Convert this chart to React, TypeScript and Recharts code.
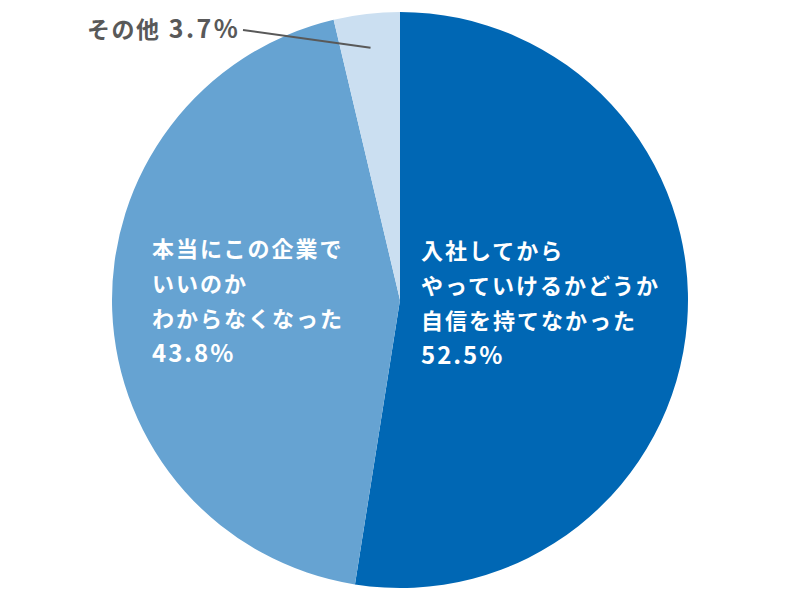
import React from "react";
import { PieChart, Pie, Cell } from "recharts";

const categories = [
  "入社してからやっていけるかどうか自信を持てなかった",
  "本当にこの企業でいいのかわからなくなった",
  "その他",
];
const labelLines = [
  ["入社してから", "やっていけるかどうか", "自信を持てなかった"],
  ["本当にこの企業で", "いいのか", "わからなくなった"],
  ["その他"],
];
const values = [52.5, 43.8, 3.7];
const colors = ["#0067b4", "#66a3d2", "#cbdff1"];

const data = categories.map((name, i) => ({ name, value: values[i], idx: i }));

const FONT = "'Noto Sans CJK JP', 'Noto Sans', sans-serif";

const renderLabel = (props: any) => {
  const { cx, cy, midAngle, index } = props;
  const v = values[index].toFixed(1) + "%";
  if (index === 2) {
    const RAD = Math.PI / 180;
    const r = 254;
    const ex = cx + r * Math.cos(-midAngle * RAD);
    const ey = cy + r * Math.sin(-midAngle * RAD);
    return (
      <g key="lbl2">
        <line x1={243} y1={30} x2={ex} y2={ey} stroke="#595959" strokeWidth={2} />
        <text x={87} y={38} fill="#595959" fontFamily={FONT} fontWeight={700} fontSize={23} letterSpacing={1.5}>
          {labelLines[2][0]}
          <tspan fontSize={25} letterSpacing={2.5}>{" " + v}</tspan>
        </text>
      </g>
    );
  }
  const x = index === 0 ? cx + 21 : cx - 248;
  const y0 = index === 0 ? 259 : 257;
  const lines = labelLines[index];
  return (
    <g key={"lbl" + index}>
      {lines.map((t, i) => (
        <text
          key={i}
          x={x}
          y={y0 + i * 35}
          fill="#ffffff"
          fontFamily={FONT}
          fontWeight={700}
          fontSize={22}
          letterSpacing={2}
        >
          {t}
        </text>
      ))}
      <text
        x={x}
        y={y0 + 3 * 35}
        fill="#ffffff"
        fontFamily={FONT}
        fontWeight={700}
        fontSize={24}
        letterSpacing={2}
      >
        {v}
      </text>
    </g>
  );
};

export default function App() {
  return (
    <div style={{ position: "absolute", left: 0, top: 0, width: 800, height: 600, background: "#ffffff" }}>
      <PieChart width={800} height={600} margin={{ top: 0, right: 0, bottom: 0, left: 0 }}>
        <Pie
          data={data}
          dataKey="value"
          nameKey="name"
          cx={400}
          cy={300}
          outerRadius={288}
          startAngle={90}
          endAngle={-270}
          stroke="none"
          isAnimationActive={false}
          labelLine={false}
          label={renderLabel}
        >
          {data.map((d, i) => (
            <Cell key={i} fill={colors[i]} />
          ))}
        </Pie>
      </PieChart>
    </div>
  );
}
